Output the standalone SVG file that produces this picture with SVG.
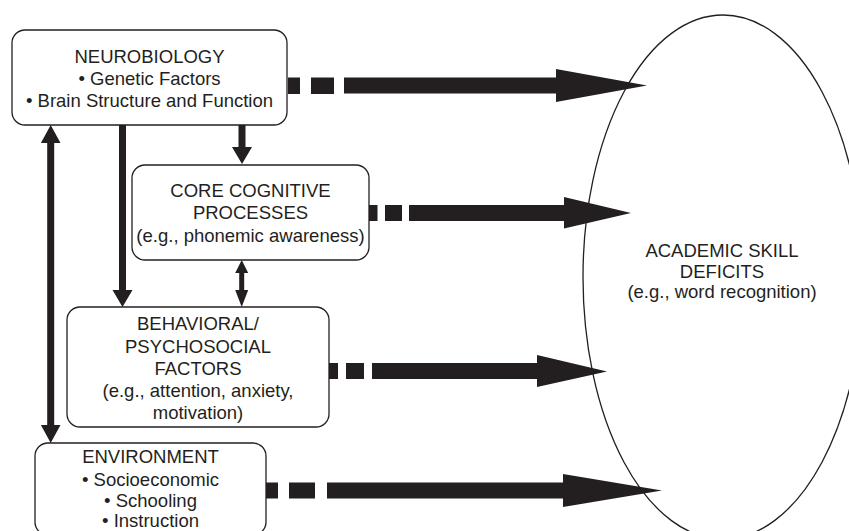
<svg xmlns="http://www.w3.org/2000/svg" width="849" height="531" viewBox="0 0 849 531">
<style>
.box{fill:#fff;stroke:#231f20;stroke-width:1.3}
.t{font-family:"Liberation Sans",Arial,sans-serif;font-size:18.5px;fill:#231f20;text-anchor:middle}
.a{fill:#231f20;stroke:none}
</style>
<rect width="849" height="531" fill="#fff"/>
<g id="deficits">
<ellipse class="box" cx="723" cy="277" rx="140" ry="262"/>
<text class="t" x="722" y="257">ACADEMIC SKILL</text>
<text class="t" x="722" y="277.5">DEFICITS</text>
<text class="t" x="722" y="298">(e.g., word recognition)</text>
</g>
<g id="neurobiology">
<rect class="box" x="12" y="30" width="275" height="95" rx="13"/>
<text class="t" x="149.5" y="63">NEUROBIOLOGY</text>
<text class="t" x="149.5" y="85">• Genetic Factors</text>
<text class="t" x="149.5" y="107">• Brain Structure and Function</text>
</g>
<g id="core">
<rect class="box" x="132" y="165" width="237" height="95" rx="13"/>
<text class="t" x="250.5" y="197">CORE COGNITIVE</text>
<text class="t" x="250.5" y="219">PROCESSES</text>
<text class="t" x="250.5" y="242">(e.g., phonemic awareness)</text>
</g>
<g id="behavioral">
<rect class="box" x="67" y="307" width="262" height="120" rx="13"/>
<text class="t" x="198" y="330">BEHAVIORAL/</text>
<text class="t" x="198" y="353">PSYCHOSOCIAL</text>
<text class="t" x="198" y="375">FACTORS</text>
<text class="t" x="198" y="397">(e.g., attention, anxiety,</text>
<text class="t" x="198" y="419">motivation)</text>
</g>
<g id="environment">
<rect class="box" x="35" y="443" width="231" height="92" rx="13"/>
<text class="t" x="150.5" y="463">ENVIRONMENT</text>
<text class="t" x="150.5" y="485.5">• Socioeconomic</text>
<text class="t" x="150.5" y="506.5">• Schooling</text>
<text class="t" x="150.5" y="527">• Instruction</text>
</g>
<g id="connectors">
<path class="a" d="M288,77.5h12v16.5h-12z M311,77.5h23v16.5h-23z M344,77.5h212v-8.5l91,16.5l-91,16.5v-8.5h-212z"/>
<path class="a" d="M369,205h8.5v16h-8.5z M385,205h17v16h-17z M409,205h155v-8l67,16l-67,15.5v-7.5h-155z"/>
<path class="a" d="M329,363h9v16h-9z M346,363h18v16h-18z M372,363h165v-8l70,16.5l-70,15.5v-8h-165z"/>
<path class="a" d="M266,482.5h12v16h-12z M289,482.5h26v16h-26z M327,482.5h236v-8.5l99,16.5l-99,16.5v-8.5h-236z"/>
<path class="a" d="M238.5,125h7v22h6.5l-10,17l-10,-17h6.5z"/>
<path class="a" d="M119,125h7v165h6.5l-10,17l-10,-17h6.5z"/>
<path class="a" d="M241.7,260l6.5,13h-4v17h4l-6.5,17l-6.5,-17h4v-17h-4z"/>
<path class="a" d="M50.7,125l9.8,18h-6.3v282h6.3l-9.8,18l-9.8,-18h6.3v-282h-6.3z"/>
</g>
</svg>
